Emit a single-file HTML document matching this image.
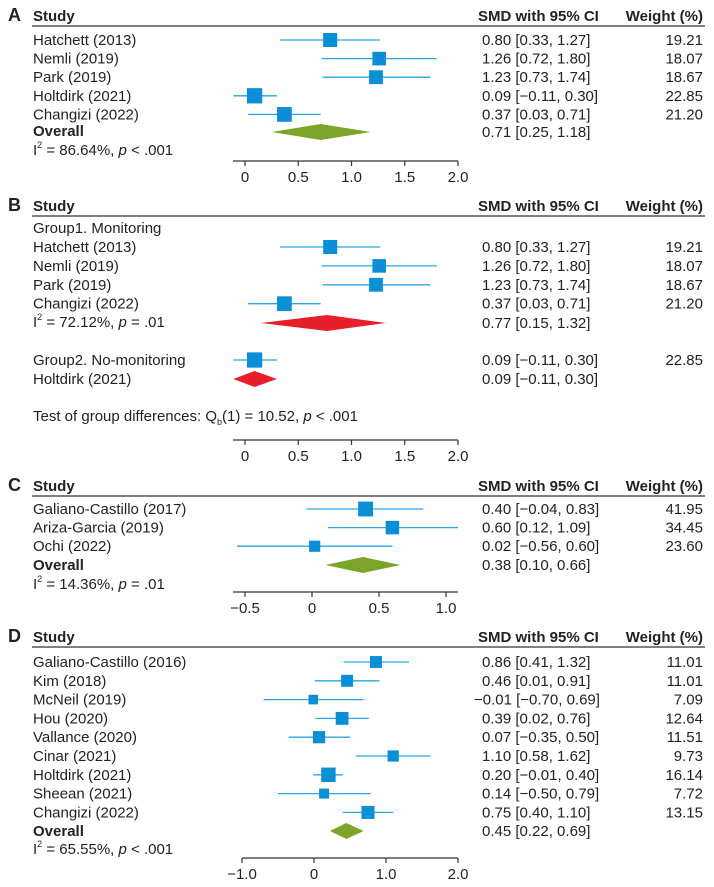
<!DOCTYPE html>
<html><head><meta charset="utf-8">
<style>
html,body{margin:0;padding:0;background:#fff;}
svg{display:block;font-family:"Liberation Sans",Arial,sans-serif;}
</style></head>
<body>
<svg id="chart" width="714" height="887" viewBox="0 0 714 887" xmlns="http://www.w3.org/2000/svg"></svg>
<script>
// Panel A data
const aStudies=["Hatchett (2013)","Nemli (2019)","Park (2019)","Holtdirk (2021)","Changizi (2022)"];
const aSmd=[0.80,1.26,1.23,0.09,0.37];
const aLo=[0.33,0.72,0.73,-0.11,0.03];
const aHi=[1.27,1.80,1.74,0.30,0.71];
const aW=[19.21,18.07,18.67,22.85,21.20];
const aOverall=[0.71,0.25,1.18];
const aTicks=[0,0.5,1.0,1.5,2.0];
const aTickLabels=["0","0.5","1.0","1.5","2.0"];
// Panel B data
const bStudies=["Hatchett (2013)","Nemli (2019)","Park (2019)","Changizi (2022)"];
const bSmd=[0.80,1.26,1.23,0.37];
const bLo=[0.33,0.72,0.73,0.03];
const bHi=[1.27,1.80,1.74,0.71];
const bW=[19.21,18.07,18.67,21.20];
const bG1=[0.77,0.15,1.32];
const bG2Smd=[0.09];const bG2Lo=[-0.11];const bG2Hi=[0.30];const bG2W=[22.85];
const bG2=[0.09,-0.11,0.30];
const bTicks=[0,0.5,1.0,1.5,2.0];
const bTickLabels=["0","0.5","1.0","1.5","2.0"];
// Panel C data
const cStudies=["Galiano-Castillo (2017)","Ariza-Garcia (2019)","Ochi (2022)"];
const cSmd=[0.40,0.60,0.02];
const cLo=[-0.04,0.12,-0.56];
const cHi=[0.83,1.09,0.60];
const cW=[41.95,34.45,23.60];
const cOverall=[0.38,0.10,0.66];
const cTicks=[-0.5,0,0.5,1.0];
const cTickLabels=["\u22120.5","0","0.5","1.0"];
// Panel D data
const dStudies=["Galiano-Castillo (2016)","Kim (2018)","McNeil (2019)","Hou (2020)","Vallance (2020)","Cinar (2021)","Holtdirk (2021)","Sheean (2021)","Changizi (2022)"];
const dSmd=[0.86,0.46,-0.01,0.39,0.07,1.10,0.20,0.14,0.75];
const dLo=[0.41,0.01,-0.70,0.02,-0.35,0.58,-0.01,-0.50,0.40];
const dHi=[1.32,0.91,0.69,0.76,0.50,1.62,0.40,0.79,1.10];
const dW=[11.01,11.01,7.09,12.64,11.51,9.73,16.14,7.72,13.15];
const dOverall=[0.45,0.22,0.69];
const dTicks=[-1,0,1,2];
const dTickLabels=["\u22121.0","0","1.0","2.0"];

const svg=document.getElementById('chart');
const NS="http://www.w3.org/2000/svg";
function mk(tag,attrs,parent){const e=document.createElementNS(NS,tag);for(const k in attrs)e.setAttribute(k,attrs[k]);(parent||svg).appendChild(e);return e;}
function fmt(v){return (v<0?"\u2212":"")+Math.abs(v).toFixed(2);}
function ciText(s,l,h){return fmt(s)+" ["+fmt(l)+", "+fmt(h)+"]";}
function txt(x,y,s,opts,name){const t=mk('text',Object.assign({x:x,y:y,'font-size':15,fill:'#222'},opts||{}));t.textContent=s;


return t;}
function smdText(y,s,l,h){const x=s<0?474:482;txt(x,y+5,ciText(s,l,h),{},'smd-ci-text');}
function header(letter,y){
 txt(8,y+6,letter,{'font-size':18,'font-weight':'bold'},'panel-letter');
 txt(33,y+6,"Study",{'font-weight':'bold'},'study-header');
 txt(478,y+6,"SMD with 95% CI",{'font-weight':'bold'},'smd-header');
 txt(703,y+6,"Weight (%)",{'font-weight':'bold','text-anchor':'end'},'weight-header');
 const l=mk('line',{x1:32,x2:705,y1:y+11,y2:y+11,stroke:'#555','stroke-width':1.5});
 
 
}
function study(sx,y,name,s,lo,hi,w,k){
 txt(33,y+5,name,{},'study-name');
 const ln=mk('line',{x1:sx(lo),x2:sx(hi),y1:y,y2:y,stroke:'#2aa6e0','stroke-width':1.3});
 
 
 const sz=k*Math.sqrt(w);
 const r=mk('rect',{x:sx(s)-sz/2,y:y-sz/2,width:sz,height:sz,fill:'#0a8fd6'});
 
 
 smdText(y,s,lo,hi);
 if(w!==null){txt(703,y+5,w.toFixed(2),{'text-anchor':'end'},'weight-value');}
}
function diamond(sx,y,v,color){
 const p=mk('polygon',{points:`${sx(v[1])},${y} ${sx(v[0])},${y-8} ${sx(v[2])},${y} ${sx(v[0])},${y+8}`,fill:color});
 
 
}
function i2(y,val,op,pv){
 const t=mk('text',{x:33,y:y+5,'font-size':15,fill:'#222'});
 
 
 t.innerHTML=`I<tspan dy="-7" font-size="9">2</tspan><tspan dy="7"> = ${val}, </tspan><tspan font-style="italic">p</tspan> ${op} ${pv}`;
}
function axis(sx,y,x0,x1,ticks,labels){
 const l=mk('line',{x1:x0,x2:x1,y1:y,y2:y,stroke:'#333','stroke-width':1.2});
 
 
 ticks.forEach((t,i)=>{
  const tk=mk('line',{x1:sx(t),x2:sx(t),y1:y,y2:y+5,stroke:'#333','stroke-width':1.2});
  
  
  txt(sx(t),y+21,labels[i],{'text-anchor':'middle'},'x-tick-label');
 });
}
// Panel A
const sxA=v=>245+v*106.5;
header("A",15);
aStudies.forEach((n,i)=>study(sxA,40+i*18.6,n,aSmd[i],aLo[i],aHi[i],aW[i],3.2));
txt(33,136,"Overall",{'font-weight':'bold'},'overall-label');
diamond(sxA,132,aOverall,'#7ba428');
smdText(132,aOverall[0],aOverall[1],aOverall[2]);
i2(150,"86.64%","<",".001");
axis(sxA,161,233,458,aTicks,aTickLabels);
// Panel B
const sxB=v=>245+v*106.5;
header("B",205);
txt(33,233,"Group1. Monitoring",{},'group-label');
bStudies.forEach((n,i)=>study(sxB,247+i*18.9,n,bSmd[i],bLo[i],bHi[i],bW[i],3.2));
i2(322,"72.12%","=",".01");
diamond(sxB,323,bG1,'#e81e2a');
smdText(323,bG1[0],bG1[1],bG1[2]);
study(sxB,360,"Group2. No-monitoring",bG2Smd[0],bG2Lo[0],bG2Hi[0],bG2W[0],3.2);
txt(33,384,"Holtdirk (2021)",{},'study-name');
diamond(sxB,379,bG2,'#e81e2a');
smdText(379,bG2[0],bG2[1],bG2[2]);
(function(){const t=mk('text',{x:33,y:421,'font-size':15,fill:'#222'});


t.innerHTML='Test of group differences: Q<tspan dy="4" font-size="9">b</tspan><tspan dy="-4">(1) = 10.52, </tspan><tspan font-style="italic">p</tspan> &lt; .001';})();
axis(sxB,440,233,458,bTicks,bTickLabels);
// Panel C
const sxC=v=>312+v*134;
header("C",485);
cStudies.forEach((n,i)=>study(sxC,509+i*18.6,n,cSmd[i],cLo[i],cHi[i],cW[i],2.3));
txt(33,570,"Overall",{'font-weight':'bold'},'overall-label');
diamond(sxC,565,cOverall,'#7ba428');
smdText(565,cOverall[0],cOverall[1],cOverall[2]);
i2(584,"14.36%","=",".01");
axis(sxC,592,233,458,cTicks,cTickLabels);
// Panel D
const sxD=v=>314+v*72;
header("D",636);
dStudies.forEach((n,i)=>study(sxD,662+i*18.8,n,dSmd[i],dLo[i],dHi[i],dW[i],3.6));
txt(33,836,"Overall",{'font-weight':'bold'},'overall-label');
diamond(sxD,831,dOverall,'#7ba428');
smdText(831,dOverall[0],dOverall[1],dOverall[2]);
i2(849,"65.55%","<",".001");
axis(sxD,858,sxD(-1),458,dTicks,dTickLabels);
</script>
</body></html>
